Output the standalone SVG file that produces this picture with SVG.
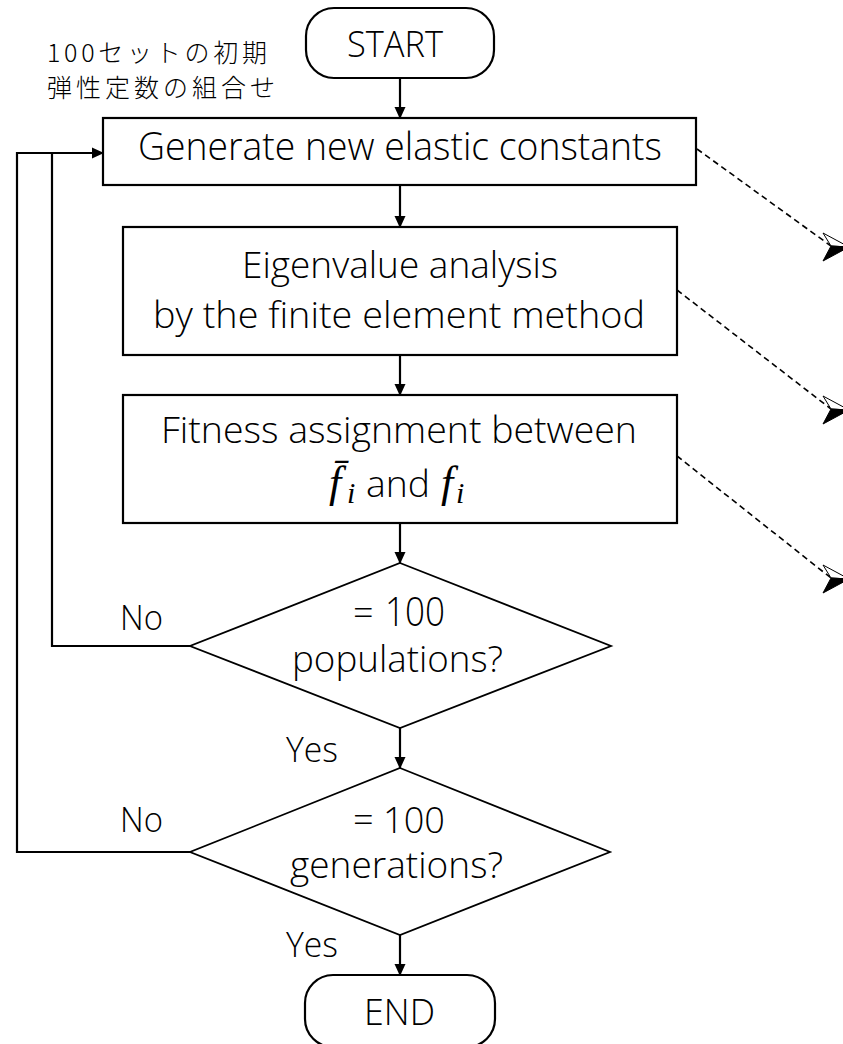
<svg xmlns="http://www.w3.org/2000/svg" width="843" height="1044" viewBox="0 0 843 1044">
  <style>
    .box { fill: #fff; stroke: #000; stroke-width: 2.2; }
    .dia { fill: #fff; stroke: #000; stroke-width: 1.8; }
    .t { font-family: "Open Sans", "Noto Sans", "Liberation Sans", sans-serif; font-weight: 300; fill: #000; }
    .c { text-anchor: middle; }
    .jp { font-family: "Noto Sans CJK JP", "Noto Sans CJK SC", sans-serif; font-weight: 300; font-size: 25px; fill: #000; }
    .m { font-family: "Liberation Serif", "DejaVu Serif", serif; font-style: italic; }
    .flow { fill: none; stroke: #000; stroke-width: 2.2; }
    .dash { fill: none; stroke: #000; stroke-width: 1.6; stroke-dasharray: 6 4; }
  </style>
  <defs>
    <marker id="ah" viewBox="0 0 12 12" refX="11" refY="6" markerWidth="12" markerHeight="12" markerUnits="userSpaceOnUse" orient="auto">
      <path d="M0,0.5 L12,6 L0,11.5 Z" fill="#000"/>
    </marker>
    <!-- shaded stealth arrowhead, tip at the origin -->
    <g id="stealth">
      <polygon points="-26,-14 0,0 -18,-1" fill="#fff" stroke="#000" stroke-width="1"/>
      <polygon points="-18,-1 0,0 -26,14" fill="#000" stroke="#000" stroke-width="1"/>
    </g>
  </defs>

  <!-- connectors -->
  <g id="connectors">
    <line class="flow" x1="400" y1="78" x2="400" y2="118" marker-end="url(#ah)"/>
    <line class="flow" x1="400" y1="185" x2="400" y2="227" marker-end="url(#ah)"/>
    <line class="flow" x1="400" y1="355" x2="400" y2="395" marker-end="url(#ah)"/>
    <line class="flow" x1="400" y1="523" x2="400" y2="563" marker-end="url(#ah)"/>
    <line class="flow" x1="400" y1="728" x2="400" y2="768" marker-end="url(#ah)"/>
    <line class="flow" x1="400" y1="935" x2="400" y2="975" marker-end="url(#ah)"/>
    <path class="flow" d="M190,852 H17 V153 H103" marker-end="url(#ah)"/>
    <path class="flow" d="M190,646 H52 V153"/>
    <line class="dash" x1="697" y1="149" x2="831" y2="246"/>
    <line class="dash" x1="677" y1="290" x2="831" y2="409"/>
    <line class="dash" x1="677" y1="456" x2="831" y2="578"/>
    <use href="#stealth" x="849" y="247"/>
    <use href="#stealth" x="849" y="410"/>
    <use href="#stealth" x="849" y="579"/>
    <text class="t" x="120" y="630" font-size="34" textLength="43" lengthAdjust="spacingAndGlyphs">No</text>
    <text class="t" x="120" y="832" font-size="34" textLength="43" lengthAdjust="spacingAndGlyphs">No</text>
    <text class="t" x="286" y="762" font-size="34" textLength="52" lengthAdjust="spacingAndGlyphs">Yes</text>
    <text class="t" x="286" y="957" font-size="34" textLength="52" lengthAdjust="spacingAndGlyphs">Yes</text>
  </g>

  <!-- note on the initial population -->
  <g id="note">
    <text class="jp" x="47" y="62" textLength="220" lengthAdjust="spacing">100セットの初期</text>
    <text class="jp" x="47" y="97" textLength="228" lengthAdjust="spacing">弾性定数の組合せ</text>
  </g>

  <g id="start">
    <rect class="box" x="306" y="8" width="188" height="70" rx="28"/>
    <text class="t" x="347" y="57" font-size="36" textLength="96" lengthAdjust="spacingAndGlyphs">START</text>
  </g>

  <g id="generate">
    <rect class="box" x="103" y="118" width="593" height="67"/>
    <text class="t c" x="400" y="160" font-size="38" textLength="524" lengthAdjust="spacingAndGlyphs">Generate new elastic constants</text>
  </g>

  <g id="eigen">
    <rect class="box" x="123" y="227" width="554" height="128"/>
    <text class="t c" x="400" y="278" font-size="36" textLength="316" lengthAdjust="spacingAndGlyphs">Eigenvalue analysis</text>
    <text class="t c" x="399" y="328" font-size="36" textLength="492" lengthAdjust="spacingAndGlyphs">by the finite element method</text>
  </g>

  <g id="fitness">
    <rect class="box" x="123" y="395" width="554" height="128"/>
    <text class="t c" x="399" y="443" font-size="36" textLength="476" lengthAdjust="spacingAndGlyphs">Fitness assignment between</text>
    <text class="t" y="497" font-size="36"><tspan class="m" x="329" font-size="44">f̄</tspan><tspan class="m" x="347" dy="6" font-size="30">i</tspan><tspan x="366" dy="-6" textLength="64" lengthAdjust="spacingAndGlyphs">and</tspan><tspan class="m" x="441" font-size="44">f</tspan><tspan class="m" x="456" dy="6" font-size="30">i</tspan></text>
  </g>

  <g id="check-populations">
    <polygon class="dia" points="400,563 611,646 400,728 190,646"/>
    <text class="t" y="626" font-size="36"><tspan x="353">=</tspan><tspan x="385" font-size="41" textLength="60" lengthAdjust="spacingAndGlyphs">100</tspan></text>
    <text class="t" x="292" y="672" font-size="36" textLength="211" lengthAdjust="spacingAndGlyphs">populations?</text>
  </g>

  <g id="check-generations">
    <polygon class="dia" points="400,768 610,852 400,935 190,852"/>
    <text class="t" x="353" y="833" font-size="36" textLength="92" lengthAdjust="spacingAndGlyphs">= 100</text>
    <text class="t" x="290" y="878" font-size="36" textLength="213" lengthAdjust="spacingAndGlyphs">generations?</text>
  </g>

  <g id="end">
    <rect class="box" x="305" y="975" width="190" height="72" rx="28"/>
    <text class="t" x="364" y="1025" font-size="36" textLength="71" lengthAdjust="spacingAndGlyphs">END</text>
  </g>
</svg>
